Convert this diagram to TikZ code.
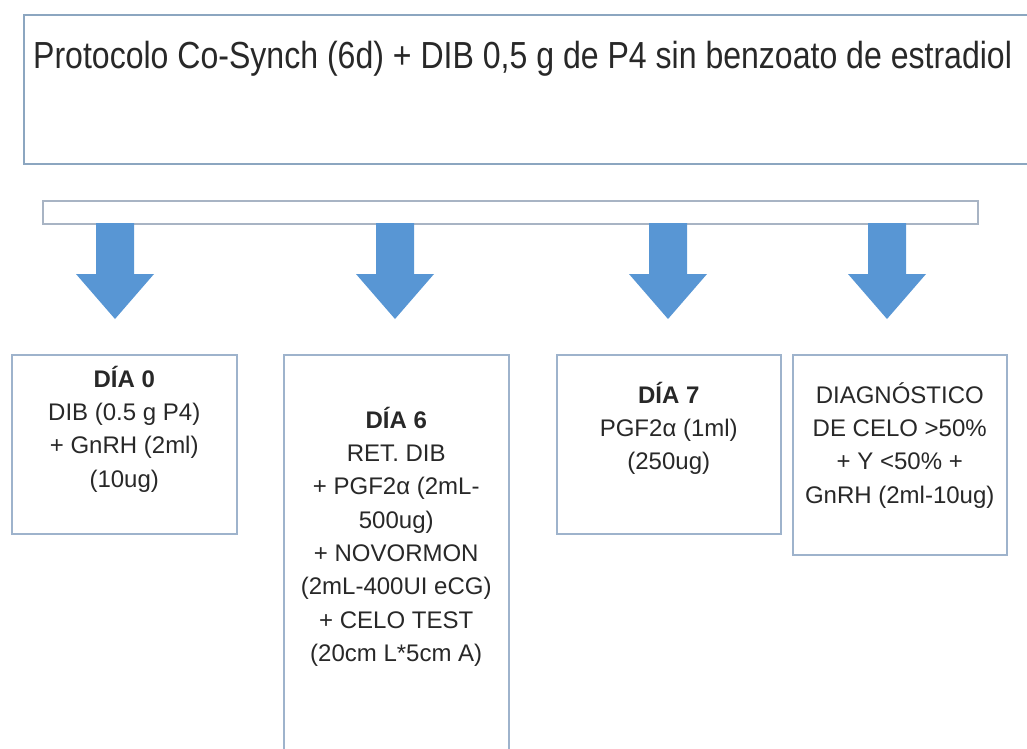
\documentclass[tikz,border=0pt]{standalone}
\usepackage{fontspec}
\setmainfont{Liberation Sans}
\newfontfamily\titlefont[FakeStretch=0.85]{Liberation Sans}
\usepackage{xcolor}
\usepackage{tikz}
\usetikzlibrary{positioning}
\definecolor{frameblue}{RGB}{140,166,192}
\definecolor{boxedge}{RGB}{158,179,204}
\definecolor{baredge}{RGB}{168,180,196}
\definecolor{arrowblue}{RGB}{88,150,212}
\definecolor{txtgray}{RGB}{40,40,40}
\tikzset{
  titlebox/.style={draw=frameblue, line width=2pt, fill=white, anchor=north west,
                   inner sep=0pt, minimum width=1030pt, minimum height=149pt},
  titletext/.style={font=\titlefont\fontsize{37.7}{40}\selectfont, text=txtgray,
                    inner sep=0pt, anchor=base west},
  linkbar/.style={draw=baredge, line width=1.5pt, fill=white, anchor=north west,
                  inner sep=0pt, minimum width=935pt, minimum height=23pt},
  daybox/.style={draw=boxedge, line width=1.5pt, fill=white, anchor=north west,
                 inner sep=0pt, minimum width=225pt},
  daytext/.style={font=\fontsize{24}{33.3}\selectfont, text=txtgray, align=center,
                  inner sep=0pt},
  blockarr/.style={fill=arrowblue}
}

\begin{document}
\begin{tikzpicture}[x=1pt, y=-1pt]
    \useasboundingbox (0,0) rectangle (1027,748);
    \clip (0,0) rectangle (1027,748);

    \node[titlebox] (head) at (23,14) {};
    \node[titletext] (ttl) at (33,68.5)
      {Protocolo Co-Synch (6d) + DIB 0,5 g de P4 sin benzoato de estradiol};

    \node[linkbar] (bar) at (42,200) {};

    \node[daybox, minimum height=179pt] (d0) at (11,354) {};
    \node[daybox, minimum height=420pt] (d6) at (283,354) {};
    \node[daybox, minimum width=224pt, minimum height=179pt] (d7) at (556,354) {};
    \node[daybox, minimum width=214pt, minimum height=200pt] (dx) at (792,354) {};

    \node[daytext, below=9.7pt of d0.north] (t0)
      {\strut\bfseries DÍA 0\\DIB (0.5 g P4)\\+ GnRH (2ml)\\(10ug)};
    \node[daytext, below=50.7pt of d6.north] (t6)
      {\strut\bfseries DÍA 6\\RET. DIB\\+ PGF2α (2mL-\\500ug)\\+ NOVORMON\\(2mL-400UI eCG)\\+ CELO TEST\\(20cm L*5cm A)};
    \node[daytext, below=25.7pt of d7.north] (t7)
      {\strut\bfseries DÍA 7\\PGF2α (1ml)\\(250ug)};
    \node[daytext, below=25.7pt of dx.north] (tx)
      {\strut DIAGNÓSTICO\\DE CELO >50\%\\+ Y <50\% +\\GnRH (2ml-10ug)};

    \foreach \ax/\nm in {115/a0, 395/a6, 668/a7, 887/ax}{
      \coordinate (\nm) at (\ax,223);
      \fill[blockarr] ({\ax-19},223) -- ({\ax+19},223) -- ({\ax+19},274)
        -- ({\ax+39},274) -- (\ax,319) -- ({\ax-39},274) -- ({\ax-19},274) -- cycle;
    }
  \end{tikzpicture}
\end{document}
